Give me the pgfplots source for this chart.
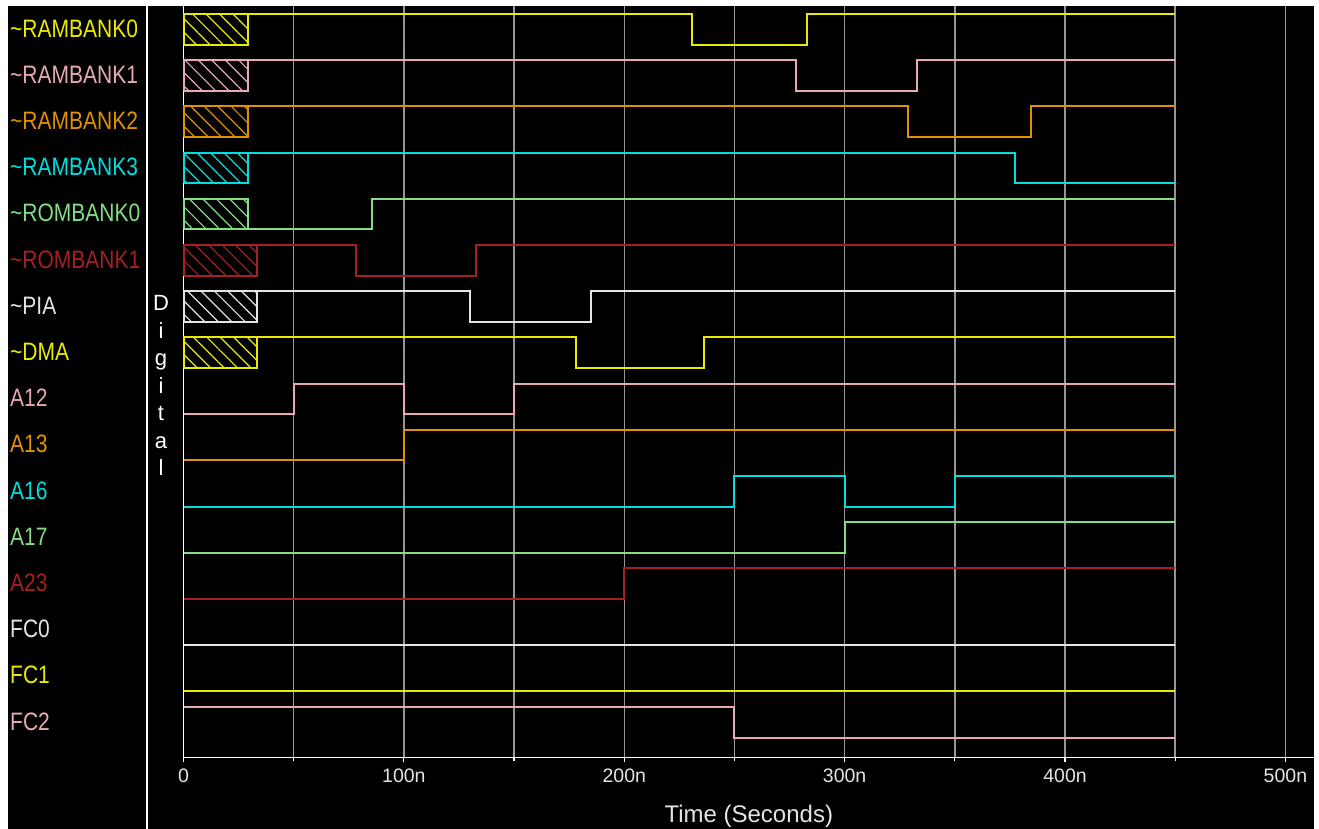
\documentclass[border=0pt]{standalone}
\usepackage{fontspec}
\setmainfont{Liberation Sans}
\usepackage{pgfplots}
\pgfplotsset{compat=1.18}
\usetikzlibrary{patterns.meta}
\definecolor{sy}{RGB}{235,235,0}
\definecolor{sp}{RGB}{232,170,178}
\definecolor{so}{RGB}{225,145,0}
\definecolor{sc}{RGB}{0,222,222}
\definecolor{sg}{RGB}{130,222,130}
\definecolor{sr}{RGB}{165,32,32}
\definecolor{sw}{RGB}{228,228,228}
\definecolor{gridc}{RGB}{150,150,150}
\newcommand{\lbl}{\fontsize{21}{21}\selectfont}
\pgfplotsset{
  sig/.style={const plot, line width=2pt, y filter/.expression={784.3-46.2*#1+30.7*y}},
  box/.style 2 args={sharp plot, line width=2pt, draw=#2, pattern={Lines[angle=-45,distance=9.5pt,line width=1.2pt]}, pattern color=#2, y filter/.expression={784.3-46.2*#1+30.7*y}},
}
\begin{document}
\begin{tikzpicture}[x=1pt,y=1pt]
\fill[white] (0,0) rectangle (1319,829);
\fill[black] (8,0) rectangle (1314,823);
\draw[white, line width=1.5pt] (147,0) -- (147,823);
% signal names
\foreach \i/\c/\t in {0/sy/\textasciitilde RAMBANK0,1/sp/\textasciitilde RAMBANK1,2/so/\textasciitilde RAMBANK2,3/sc/\textasciitilde RAMBANK3,4/sg/\textasciitilde ROMBANK0,5/sr/\textasciitilde ROMBANK1,6/sw/\textasciitilde PIA,7/sy/\textasciitilde DMA,8/sp/A12,9/so/A13,10/sc/A16,11/sg/A17,12/sr/A23,13/sw/FC0,14/sy/FC1,15/sp/FC2}{
  \node[anchor=west, inner sep=0pt, text=\c, font=\lbl] at (10, {829-28.5-46.2*\i}) {\scalebox{1}[1.2]{\t}};
}
\node[white, align=center, inner sep=0pt, font=\fontsize{22}{27.5}\selectfont] at (161, 443.5) {D\\i\\g\\i\\t\\a\\l};
\begin{axis}[
  at={(183.5pt,71.5pt)}, anchor=south west, scale only axis,
  width=1130.5pt, height=751.5pt,
  xmin=0, xmax=513, ymin=71.5, ymax=823,
  axis x line*=bottom, axis y line*=left,
  axis line style={white, line width=1.5pt, -},
  ytick=\empty,
  xtick={0,100,...,500},
  xticklabels={0,100n,200n,300n,400n,500n},
  minor xtick={50,150,...,450},
  xmajorgrids, xminorgrids,
  grid style={gridc, line width=1.5pt},
  minor grid style={gridc, line width=1.5pt},
  tick style={white, line width=1.2pt},
  tick align=outside, major tick length=5pt, minor tick length=4pt,
  xticklabel style={font=\fontsize{19.5}{19.5}\selectfont, text=sw, yshift=-3pt},
  xlabel={Time (Seconds)},
  xlabel style={at={(axis description cs:0.5,0)}, anchor=center, yshift=-59pt, font=\fontsize{24}{24}\selectfont, text=sw},
  clip=false,
]
% unknown (hatched) initial regions
\addplot[box={0}{sy}] coordinates {(0,0) (29.3,0) (29.3,1) (0,1) (0,0)};
\addplot[box={1}{sp}] coordinates {(0,0) (29.3,0) (29.3,1) (0,1) (0,0)};
\addplot[box={2}{so}] coordinates {(0,0) (29.3,0) (29.3,1) (0,1) (0,0)};
\addplot[box={3}{sc}] coordinates {(0,0) (29.3,0) (29.3,1) (0,1) (0,0)};
\addplot[box={4}{sg}] coordinates {(0,0) (29.3,0) (29.3,1) (0,1) (0,0)};
\addplot[box={5}{sr}] coordinates {(0,0) (33.3,0) (33.3,1) (0,1) (0,0)};
\addplot[box={6}{sw}] coordinates {(0,0) (33.3,0) (33.3,1) (0,1) (0,0)};
\addplot[box={7}{sy}] coordinates {(0,0) (33.3,0) (33.3,1) (0,1) (0,0)};
% signals
\addplot[sig=0, sy] coordinates {(29.3,1) (230.6,0) (282.8,1) (450,1)};
\addplot[sig=1, sp] coordinates {(29.3,1) (277.9,0) (332.8,1) (450,1)};
\addplot[sig=2, so] coordinates {(29.3,1) (328.7,0) (384.5,1) (450,1)};
\addplot[sig=3, sc] coordinates {(29.3,1) (377.3,0) (450,0)};
\addplot[sig=4, sg] coordinates {(29.3,0) (85.5,1) (450,1)};
\addplot[sig=5, sr] coordinates {(33.3,1) (78.3,0) (132.7,1) (450,1)};
\addplot[sig=6, sw] coordinates {(33.3,1) (129.9,0) (184.9,1) (450,1)};
\addplot[sig=7, sy] coordinates {(33.3,1) (178.1,0) (236.2,1) (450,1)};
\addplot[sig=8, sp] coordinates {(0,0) (50,1) (100,0) (150,1) (450,1)};
\addplot[sig=9, so] coordinates {(0,0) (100,1) (450,1)};
\addplot[sig=10, sc] coordinates {(0,0) (250,1) (300,0) (350,1) (450,1)};
\addplot[sig=11, sg] coordinates {(0,0) (300,1) (450,1)};
\addplot[sig=12, sr] coordinates {(0,0) (200,1) (450,1)};
\addplot[sig=13, sw] coordinates {(0,0) (450,0)};
\addplot[sig=14, sy] coordinates {(0,0) (450,0)};
\addplot[sig=15, sp] coordinates {(0,1) (250,0) (450,0)};
\end{axis}
\pgfresetboundingbox
\useasboundingbox (0,0) rectangle (1319,829);
\end{tikzpicture}
\end{document}
